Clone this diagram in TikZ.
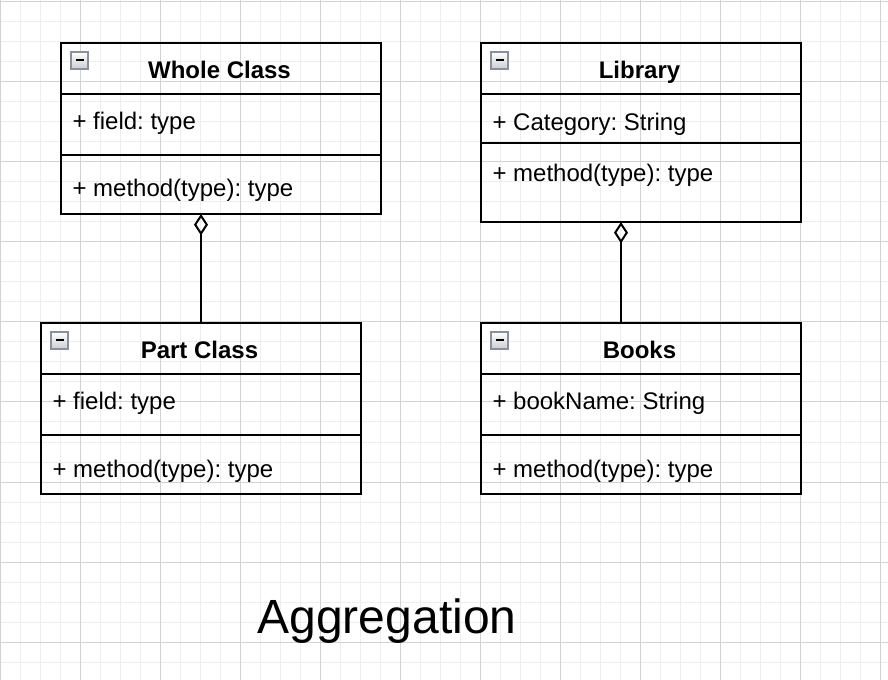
\documentclass[tikz,border=0pt]{standalone}
\usepackage{fontspec}
\setmainfont{Liberation Sans}
\usepackage{tikz}
\usetikzlibrary{arrows.meta, calc, positioning}
\frenchspacing
\definecolor{gridMinor}{HTML}{EEEEEE}
\definecolor{gridMajor}{HTML}{D2D2D2}
\definecolor{iconEdge}{HTML}{8C909C}
\newcommand{\collapseicon}[1]{%
	\draw[iconbox] ($ (#1.north west)+(10,9) $) rectangle ++(17,17);
	\draw[black, line width=1.5pt] ($ (#1.north west)+(14.5,17.5) $) -- ++(8,0);
}

\begin{document}
\begin{tikzpicture}[x=0.75pt, y=-0.75pt, line width=1.5pt,
	classbox/.style={draw=black, minimum width=240pt, inner sep=0pt, outer sep=0pt, anchor=north west},
	classtitle/.style={anchor=base, inner sep=0pt, font=\fontsize{18}{21.6}\selectfont\bfseries},
	member/.style={anchor=base west, inner sep=0pt, font=\fontsize{18}{21.6}\selectfont},
	iconbox/.style={draw=iconEdge, line width=1.1pt, top color=white, bottom color=iconEdge!45},
	aggregation/.style={-{Diamond[open, length=16pt, width=10.5pt]}, line width=1.5pt}]

	\useasboundingbox (0,0) rectangle (888,680);

	% background grid
	\foreach \gx in {0,20,...,880} \draw[gridMinor, line width=0.75pt] (\gx,0) -- (\gx,680);
	\foreach \gy in {2,22,...,662} \draw[gridMinor, line width=0.75pt] (0,\gy) -- (888,\gy);
	\foreach \gx in {0,80,...,880} \draw[gridMajor, line width=0.75pt] (\gx,0) -- (\gx,680);
	\foreach \gy in {2,82,...,642} \draw[gridMajor, line width=0.75pt] (0,\gy) -- (888,\gy);

	% Whole Class
	\node[classbox, minimum height=128.25pt] (whole) at (61,43) {};
	\draw ($ (whole.north west)+(0,51.5) $) -- ($ (whole.north east)+(0,51.5) $);
	\draw ($ (whole.north west)+(0,112) $) -- ($ (whole.north east)+(0,112) $);
	\node[classtitle] (wholeT) at ($ (whole.north)+(-1.5,35.5) $) {Whole Class};
	\node[member] (wholeF) at ($ (whole.north west)+(10.5,86.5) $) {+ field: type};
	\node[member] (wholeM) at ($ (whole.north west)+(10.5,154) $) {+ method(type): type};
	\collapseicon{whole}

	% Library
	\node[classbox, minimum height=134.25pt] (library) at (481,43) {};
	\draw ($ (library.north west)+(0,51.5) $) -- ($ (library.north east)+(0,51.5) $);
	\draw ($ (library.north west)+(0,100) $) -- ($ (library.north east)+(0,100) $);
	\node[classtitle] (libraryT) at ($ (library.north)+(-1.5,35.5) $) {Library};
	\node[member] (libraryF) at ($ (library.north west)+(10.5,87.5) $) {+ Category: String};
	\node[member] (libraryM) at ($ (library.north west)+(10.5,139) $) {+ method(type): type};
	\collapseicon{library}

	% Part Class
	\node[classbox, minimum height=128.25pt] (part) at (41,323) {};
	\draw ($ (part.north west)+(0,51.5) $) -- ($ (part.north east)+(0,51.5) $);
	\draw ($ (part.north west)+(0,112) $) -- ($ (part.north east)+(0,112) $);
	\node[classtitle] (partT) at ($ (part.north)+(-1.5,35.5) $) {Part Class};
	\node[member] (partF) at ($ (part.north west)+(10.5,86.5) $) {+ field: type};
	\node[member] (partM) at ($ (part.north west)+(10.5,154) $) {+ method(type): type};
	\collapseicon{part}

	% Books
	\node[classbox, minimum height=128.25pt] (books) at (481,323) {};
	\draw ($ (books.north west)+(0,51.5) $) -- ($ (books.north east)+(0,51.5) $);
	\draw ($ (books.north west)+(0,112) $) -- ($ (books.north east)+(0,112) $);
	\node[classtitle] (booksT) at ($ (books.north)+(-1.5,35.5) $) {Books};
	\node[member] (booksF) at ($ (books.north west)+(10.5,86.5) $) {+ bookName: String};
	\node[member] (booksM) at ($ (books.north west)+(10.5,154) $) {+ method(type): type};
	\collapseicon{books}

	% aggregation links
	\draw[aggregation] (part.north) -- (part.north |- whole.south);
	\draw[aggregation] ([xshift=-15pt]books.north) -- ([xshift=-15pt]books.north |- library.south);

	\node[anchor=base, inner sep=0pt, font=\fontsize{36}{43.2}\selectfont] (caption) at (387,633) {Aggregation};

\end{tikzpicture}
\end{document}
